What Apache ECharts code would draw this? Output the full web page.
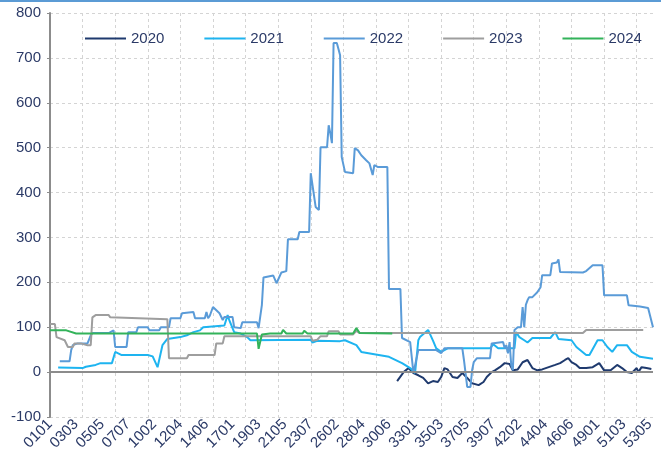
<!DOCTYPE html>
<html>
<head>
<meta charset="utf-8">
<script src="https://cdn.jsdelivr.net/npm/echarts@6/dist/echarts.min.js"></script>
<style>
  html, body { margin: 0; padding: 0; background: #fff; }
  #main { width: 661px; height: 467px; }
</style>
</head>
<body>
<div id="main"></div>
<script>
// 日期编码: 周(01-53) + 星期(1-7)
var weeks = 53, daysPerWeek = 7;
var days = [];
for (var w = 1; w <= weeks; w++) {
    for (var d = 1; d <= daysPerWeek; d++) {
        days.push((w < 10 ? '0' + w : '' + w) + '0' + d);
    }
}

var years = ['2020', '2021', '2022', '2023', '2024'];
var colors = ['#1f3a6e', '#1eb4f0', '#5a9bd8', '#9e9e9e', '#33b35a'];

// 各年数据: [日序号(0 = 0101), 数值]
var data2020 = [[213,-20],[217,0],[220,9],[223,-2],[226,-7],[229,-13],[232,-25],[235,-20],[238,-22],[240,-11],
    [242,9],[244,6],[247,-11],[248,-9],[250,-13],[253,-2],[256,-13],[259,-25],[263,-29],[266,-22],[268,-11],
    [271,0],[273,4],[276,11],[279,20],[282,18],[284,4],[287,6],[290,22],[293,27],[296,9],[299,4],[302,6],
    [306,11],[310,16],[313,20],[316,27],[318,31],[320,22],[323,16],[325,9],[329,9],[333,11],[337,20],[340,4],
    [344,4],[348,16],[351,9],[354,0],[357,-2],[360,9],[361,0],[363,11],[366,9],[369,7]];

var data2021 = [[5,10],[20,9],[22,12],[28,16],[31,20],[38,20],[40,45],[44,38],[60,38],[63,35],[66,11],[69,60],
    [72,74],[80,78],[84,82],[88,89],[92,93],[94,100],[107,104],[109,127],[110,116],[113,89],[117,86],[121,78],
    [123,71],[160,72],[161,66],[164,70],[178,69],[181,71],[188,60],[191,45],[199,40],[208,34],[216,20],[221,9],
    [224,-2],[225,-2],[226,71],[227,78],[232,94],[235,70],[237,53],[240,45],[244,53],[270,53],[272,62],[275,53],
    [285,53],[286,89],[288,78],[291,71],[293,66],[296,76],[307,76],[310,89],[312,74],[320,71],[323,56],[329,38],
    [331,38],[336,71],[339,71],[342,56],[345,45],[348,60],[354,60],[357,45],[362,34],[368,31],[370,30]];

var data2022 = [[6,24],[12,24],[13,49],[14,60],[17,64],[23,64],[25,82],[26,87],[36,87],[39,93],[40,56],[47,56],
    [48,89],[53,89],[54,100],[60,100],[61,93],[67,93],[68,100],[73,100],[74,120],[80,120],[81,131],[88,134],
    [89,120],[95,120],[96,134],[97,120],[98,125],[100,145],[104,131],[106,116],[107,123],[112,123],[113,100],
    [117,98],[118,111],[127,111],[128,98],[129,100],[130,149],[131,211],[137,215],[139,198],[140,194],[142,222],
    [145,225],[146,296],[152,296],[153,312],[159,312],[160,443],[161,443],[163,368],[165,361],[166,501],[170,501],
    [171,550],[172,532],[173,510],[174,733],[176,733],[177,720],[178,706],[179,479],[181,446],[186,443],[187,499],
    [189,494],[191,483],[194,472],[196,465],[198,439],[199,461],[201,457],[207,457],[208,185],[215,185],[216,76],
    [221,67],[223,-2],[224,-2],[226,49],[237,49],[240,42],[242,53],[253,53],[254,27],[256,-33],[258,-33],[259,4],
    [260,22],[262,31],[270,31],[271,64],[272,67],[278,67],[279,53],[280,60],[281,42],[282,67],[283,16],[284,4],
    [285,94],[287,100],[289,100],[290,145],[291,100],[292,150],[293,160],[294,167],[296,167],[299,178],[301,189],
    [302,216],[307,216],[308,242],[311,244],[312,251],[313,223],[327,222],[329,225],[333,238],[339,238],[340,171],
    [354,171],[355,149],[362,146],[363,143],[367,143],[368,140],[370,100]];

var data2023 = [[0,107],[3,107],[4,78],[9,71],[11,56],[14,56],[15,64],[19,64],[23,60],[25,60],[26,122],[28,127],
    [36,127],[37,122],[72,118],[73,31],[84,31],[85,38],[101,38],[102,64],[106,64],[107,80],[160,80],[161,70],
    [164,72],[166,80],[170,80],[171,91],[177,91],[178,84],[186,84],[188,92],[190,87],[327,87],[329,94],[364,94]];

var data2024 = [[0,93],[10,93],[16,86],[127,86],[128,52],[130,84],[135,86],[142,86],[143,94],[145,86],[155,86],
    [156,92],[158,86],[186,86],[188,98],[190,87],[210,86]];

var seriesData = [data2020, data2021, data2022, data2023, data2024];

var labelColor = '#2b3a67';
var myChart = echarts.init(document.getElementById('main'));

var series = years.map(function (y, i) {
    return {
        name: y,
        type: 'line',
        data: seriesData[i],
        showSymbol: false,
        symbol: 'none',
        lineStyle: { width: 2, color: colors[i] },
        itemStyle: { color: colors[i] }
    };
});
// 0 轴线
series[0].markLine = {
    silent: true,
    symbol: 'none',
    label: { show: false },
    data: [{ yAxis: 0 }],
    lineStyle: { color: '#8c8c8c', width: 2, type: 'solid' }
};

var option = {
    animation: false,
    backgroundColor: '#fff',
    graphic: [{
        type: 'rect',
        shape: { x: 0, y: 0, width: 661, height: 2 },
        style: { fill: '#5b9bd5' }
    }],
    legend: {
        data: years,
        left: 80,
        top: 26,
        icon: 'rect',
        itemWidth: 41,
        itemHeight: 2,
        itemGap: 40,
        textStyle: { color: labelColor, fontSize: 15, fontFamily: 'Liberation Sans' }
    },
    grid: { left: 50, right: 8, top: 13, bottom: 50 },
    xAxis: {
        type: 'category',
        data: days,
        boundaryGap: false,
        axisLine: { show: false },
        axisTick: { show: false },
        axisLabel: {
            interval: 15,
            rotate: 45,
            margin: 5,
            color: labelColor,
            fontSize: 15,
            fontFamily: 'Liberation Sans'
        },
        splitLine: {
            show: true,
            interval: 19,
            lineStyle: { color: '#d4d4d4', type: [3, 3], width: 1 }
        }
    },
    yAxis: {
        type: 'value',
        min: -100,
        max: 800,
        interval: 100,
        axisLine: { show: true, lineStyle: { color: '#8c8c8c', width: 2 } },
        axisTick: { show: true, length: 3, lineStyle: { color: '#8c8c8c' } },
        axisLabel: { color: labelColor, fontSize: 15, margin: 9, fontFamily: 'Liberation Sans' },
        splitLine: { lineStyle: { color: '#d4d4d4', type: [3, 3], width: 1 } }
    },
    series: series
};
myChart.setOption(option);
</script>
</body>
</html>
